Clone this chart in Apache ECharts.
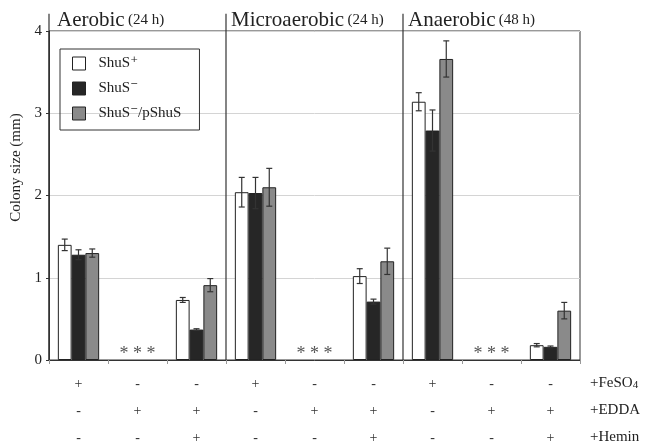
<!DOCTYPE html>
<html><head><meta charset="utf-8">
<script src="https://cdn.jsdelivr.net/npm/echarts@6/dist/echarts.min.js"></script>
<style>html,body{margin:0;padding:0;background:#fff}#c{width:653px;height:444px}</style>
</head><body><div id="c"></div>
<script>
const categories = ['c1','c2','c3','c4','c5','c6','c7','c8','c9'];
const feso4 = ['+','-','-','+','-','-','+','-','-'];
const edda  = ['-','+','+','-','+','+','-','+','+'];
const hemin = ['-','-','+','-','-','+','-','-','+'];
const seriesNames = ['ShuS⁺','ShuS⁻','ShuS⁻/pShuS'];
const shusPlus    = [1.40, null, 0.73, 2.04, null, 1.02, 3.14, null, 0.18];
const shusMinus   = [1.28, null, 0.37, 2.03, null, 0.71, 2.79, null, 0.16];
const shusMinusP  = [1.30, null, 0.91, 2.10, null, 1.20, 3.66, null, 0.60];
const errPlus     = [0.07, null, 0.03, 0.18, null, 0.09, 0.11, null, 0.02];
const errMinus    = [0.06, null, 0.01, 0.19, null, 0.03, 0.25, null, 0.01];
const errMinusP   = [0.05, null, 0.08, 0.23, null, 0.16, 0.22, null, 0.10];
const asteriskCats = [1, 4, 7];
const panelNames = ['Aerobic', 'Microaerobic', 'Anaerobic'];
const panelTimes = ['(24 h)', '(24 h)', '(48 h)'];
const panelStart = [0, 3, 6];
const yTicks = [0, 1, 2, 3, 4];
const conditionNames = ['+FeSO4', '+EDDA', '+Hemin'];

const FONT = 'Liberation Serif, DejaVu Serif, serif';
const colors = ['#ffffff', '#262626', '#8a8a8a'];
const values = [shusPlus, shusMinus, shusMinusP];
const errs = [errPlus, errMinus, errMinusP];

const errData = [];
errs.forEach((arr, k) => arr.forEach((e, i) => {
  if (e != null) errData.push([i, values[k][i] - e, values[k][i] + e, k]);
}));

const chart = echarts.init(document.getElementById('c'));
const barSeries = seriesNames.map((n, k) => ({
  name: n, type: 'bar', data: values[k], barGap: '0%', barCategoryGap: '30%',
  itemStyle: { color: colors[k], borderColor: '#222', borderWidth: 1 },
  emphasis: { disabled: true }, z: 2
}));

chart.setOption({
  animation: false,
  textStyle: { fontFamily: FONT },
  grid: { left: 49, right: 73, top: 31, bottom: 84, show: true, borderColor: '#333', borderWidth: 1,
          containLabel: false, outerBoundsMode: 'none' },
  legend: {
    left: 60, top: 49, orient: 'vertical', borderColor: '#333', borderWidth: 1,
    padding: [7, 18, 9, 12], itemWidth: 13, itemHeight: 13, itemGap: 10,
    icon: 'rect',
    textStyle: { fontFamily: FONT, fontSize: 15, color: '#222', padding: [0, 0, 0, 8] },
    data: seriesNames.map((n, k) => ({ name: n, itemStyle: { color: colors[k], borderColor: '#222', borderWidth: 1 } }))
  },
  xAxis: [{
    type: 'category', data: categories,
    axisLine: { lineStyle: { color: '#333', width: 1 } },
    axisTick: { show: true, length: 4, lineStyle: { color: '#999' } },
    axisLabel: {
      margin: 11, fontSize: 14, color: '#333', lineHeight: 27, fontFamily: FONT,
      formatter: (v, i) => feso4[i] + '\n' + edda[i] + '\n' + hemin[i]
    }
  }],
  yAxis: {
    type: 'value', min: 0, max: 4, interval: 1,
    name: 'Colony size (mm)', nameLocation: 'middle', nameGap: 23,
    nameTextStyle: { fontSize: 15, color: '#222', fontFamily: FONT, padding: [0, 0, 0, 56] },
    axisLine: { show: true, lineStyle: { color: '#333' } },
    axisTick: { show: true, length: 3, lineStyle: { color: '#333' } },
    axisLabel: { fontSize: 15, color: '#222', margin: 7, fontFamily: FONT,
      formatter: v => yTicks.includes(v) ? String(v) : '' },
    splitLine: { lineStyle: { color: '#d4d4d4' } }
  },
  series: barSeries.concat([
    {
      type: 'custom', name: 'err', data: errData, z: 5, silent: true,
      renderItem: (params, api) => {
        const i = api.value(0), lo = api.value(1), hi = api.value(2), k = api.value(3);
        const bandW = api.size([1, 0])[0];
        const barW = bandW * 0.7 / 3;
        const c = api.coord([i, lo]);
        const x = c[0] + (k - 1) * barW;
        const y1 = c[1], y2 = api.coord([i, hi])[1];
        const cap = 3;
        const st = { stroke: '#333', lineWidth: 1.2 };
        return { type: 'group', children: [
          { type: 'line', shape: { x1: x, y1: y1, x2: x, y2: y2 }, style: st },
          { type: 'line', shape: { x1: x - cap, y1: y1, x2: x + cap, y2: y1 }, style: st },
          { type: 'line', shape: { x1: x - cap, y1: y2, x2: x + cap, y2: y2 }, style: st }
        ]};
      }
    },
    {
      type: 'custom', name: 'ast', data: asteriskCats.map(c => [c, 0]), z: 5, silent: true,
      renderItem: (params, api) => {
        const p = api.coord([api.value(0), 0]);
        return { type: 'text', x: p[0], y: p[1] - 6,
          style: { text: '* * *', fontSize: 18, fontFamily: FONT, fill: '#555', align: 'center', verticalAlign: 'middle' } };
      }
    },
    {
      type: 'custom', name: 'panels', data: panelStart.map((s, j) => [s, j]), z: 6, silent: true, clip: false,
      renderItem: (params, api) => {
        const s = api.value(0), j = api.value(1);
        const bandW = api.size([1, 0])[0];
        const x = api.coord([s, 0])[0] - bandW / 2;
        const yb = api.coord([s, 0])[1];
        const yt = api.coord([s, 4.21])[1];
        return { type: 'group', children: [
          { type: 'line', shape: { x1: x, y1: yb, x2: x, y2: yt }, style: { stroke: '#333', lineWidth: 1.2 } },
          { type: 'text', x: x + (j === 0 ? 8 : 5), y: api.coord([s, 4])[1] - 11,
            style: { text: '{a|' + panelNames[j] + '} {b|' + panelTimes[j] + '}',
              verticalAlign: 'middle', align: 'left',
              rich: { a: { fontSize: 21, fontFamily: FONT, fill: '#222', color: '#222' },
                      b: { fontSize: 15, fontFamily: FONT, fill: '#222', color: '#222' } } } }
        ]};
      }
    }
  ]),
  graphic: conditionNames.map((n, r) => ({
    type: 'text', left: 590, top: 376 + r * 27,
    style: {
      text: r === 0 ? '{m|+FeSO}{s|4}' : '{m|' + n + '}',
      rich: { m: { fontSize: 15, fontFamily: FONT, fill: '#222', color: '#222', verticalAlign: 'bottom' },
              s: { fontSize: 11, fontFamily: FONT, fill: '#222', color: '#222', padding: [6, 0, 0, 0] } }
    }
  }))
});
</script></body></html>
